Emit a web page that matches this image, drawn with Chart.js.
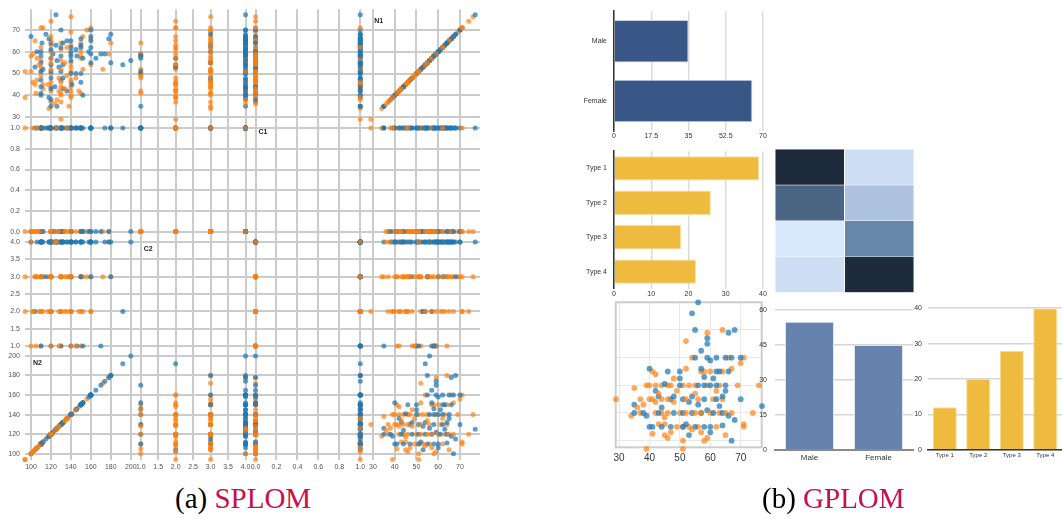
<!DOCTYPE html>
<html>
<head>
<meta charset="utf-8">
<script src="https://cdn.jsdelivr.net/npm/chart.js@4.4.1/dist/chart.umd.min.js"></script>
<style>
  body { margin: 0; background: #fff; width: 1062px; height: 519px; overflow: hidden; position: relative; }
  .box { position: absolute; }
  .cap { position: absolute; font-family: "Liberation Serif", "Times New Roman", serif; font-size: 29px; line-height: 32px; color: #000; white-space: nowrap; }
  .cap span { color: #c8104b; }
</style>
</head>
<body>
<div class="box" style="left:0;top:0;width:490px;height:475px"><canvas id="splom"></canvas></div>
<div class="box" style="left:580px;top:0;width:200px;height:145px"><canvas id="genderH"></canvas></div>
<div class="box" style="left:580px;top:140px;width:200px;height:160px"><canvas id="typeH"></canvas></div>
<div class="box" style="left:770px;top:140px;width:150px;height:160px"><canvas id="heat"></canvas></div>
<div class="box" style="left:590px;top:296px;width:180px;height:175px"><canvas id="scatter"></canvas></div>
<div class="box" style="left:740px;top:298px;width:180px;height:170px"><canvas id="genderV"></canvas></div>
<div class="box" style="left:905px;top:298px;width:157px;height:170px"><canvas id="typeV"></canvas></div>
<div class="cap" style="left:175px;top:482px">(a) <span>SPLOM</span></div>
<div class="cap" style="left:762px;top:482px">(b) <span>GPLOM</span></div>

<script>
// ---- records, blue group
var blueN1 = [56,54,55,66,68,59,59,57,55,59, 62,65,67,70,60,40,46,57,62,63, 66,50,50,45,50,56,58,60,62,65,
              42,65,43,48,47,51,53,54,58,62, 70,35,35,38,39,43,48,51,54,57, 59,61,64,66,77,40,41,44,47,51,
              52,55,58,60,64,53,60,67,56,63, 68,44,61,58,64];
var blueN2 = [200,192,180,178,180,174,170,165,160,160, 160,160,160,160,158,152,150,152,150,150,
              150,150,145,141,140,140,140,140,140,140, 136,136,132,132,130,130,128,132,130,130,
              130,126,120,120,118,120,120,120,120,120, 122,120,120,118,125,110,110,110,110,110,
              112,110,110,110,111,104,106,100,126,125, 115,124,145,146,132];
var blueC1 = [0,1,1,0,1,1,0,0,1,1, 1,0,1,1,0,1,1,0,1,1, 1,0,1,1,1,0,1,1,0,1, 1,1,0,1,1,1,0,1,1,1,
              0,1,1,0,1,1,1,0,1,1, 0,1,1,1,1,1,0,1,1,1, 0,1,1,0,1,1,1,0,1,1, 1,0,1,1,0];
var blueC2 = [4,2,3,4,4,4,1,4,4,4, 3,4,4,4,4,4,4,1,4,3, 4,4,4,4,1,4,4,3,4,4, 4,4,4,4,3,4,4,4,1,4,
              4,4,1,4,4,4,3,4,4,2, 4,4,4,4,4,4,4,4,4,1, 4,3,4,4,4,2,4,4,4,4, 3,4,4,1,4];

// ---- records, orange group
var orangeN1 = [64,59,52,54,66,71,70,41,42,52, 57,58,60,64,67,35,39,40,42,44, 46,47,51,53,55,59,63,69,76,29,
                37,40,41,44,46,48,52,56,61,64, 34,37,42,44,45,46,50,52,55,57, 60,63,65,67,74,43,45,49,51,53,
                56,62,71,71,41,45,46,47,51,54, 57,59,58,65,39,51,43,49,38,48, 55,62,36,42];
var orangeN2 = [180,178,172,160,160,160,156,150,148,152, 150,150,150,150,152,138,140,140,140,140,
                140,140,140,140,140,140,140,140,140,130, 130,130,130,130,130,128,130,130,130,130,
                118,120,120,120,117,120,120,120,120,120, 120,120,120,120,120,112,112,110,110,110,
                110,110,110,112,105,104,102,106,100,108, 106,102,100,104,94,94,134,136,126,145,
                134,136,124,128];
var orangeC1 = [1,0,0,0,1,0,0,0,1,0, 0,1,0,0,0,1,0,0,1,0, 0,0,1,0,0,0,1,0,0,1, 0,0,0,1,0,0,1,0,0,0,
                1,0,0,0,1,0,0,1,0,0, 0,1,0,0,0,0,1,0,0,1, 0,0,0,1,0,0,1,0,0,0, 1,0,0,0,1,0,0,0,1,0,
                0,1,0,0];
var orangeC2 = [3,4,3,2,3,2,3,3,2,3, 2,3,3,1,2,3,2,3,2,3, 2,4,3,2,3,1,2,3,3,2, 3,2,3,4,3,2,1,3,2,3,
                3,2,4,3,2,3,1,2,3,2, 3,4,2,3,2,3,2,1,3,2, 4,3,2,3,1,3,2,3,4,2, 3,2,1,3,2,3,2,3,4,1,
                3,2,4,1];

// SPLOM layout: columns left to right, rows top to bottom
var colVars = ['N2', 'C2', 'C1', 'N1'];
var rowVars = ['N1', 'C1', 'C2', 'N2'];
var tickSets = {
  N1: [30, 40, 50, 60, 70],
  C1: [0, 0.2, 0.4, 0.6, 0.8, 1],
  C2: [1, 1.5, 2, 2.5, 3, 3.5, 4],
  N2: [100, 120, 140, 160, 180, 200]
};

// GPLOM bars
var genderLabels = ['Male', 'Female'];
var genderCountsH = [35, 65];
var genderTicksH = [0, 17.5, 35, 52.5, 70];
var typeLabels = ['Type 1', 'Type 2', 'Type 3', 'Type 4'];
var typeCountsH = [39, 26, 18, 22];
var typeTicksH = [0, 10, 20, 30, 40];
var heatMale = [28, 21, 3, 5];
var heatFemale = [5, 10, 17, 28];
var genderCountsV = [55, 45];
var genderTicksV = [0, 15, 30, 45, 60];
var typeCountsV = [12, 20, 28, 40];
var typeTicksV = [0, 10, 20, 30, 40];
var scatterTicksX = [30, 40, 50, 60, 70];
var scatterTicksY = [100, 120, 140, 160, 180];

Chart.defaults.font.family = '"Liberation Sans", Arial, sans-serif';
Chart.defaults.animation = false;
Chart.defaults.plugins.legend.display = false;
Chart.defaults.plugins.tooltip.enabled = false;
Chart.defaults.responsive = true;
Chart.defaults.maintainAspectRatio = false;

var groupColors = ['rgba(31,119,180,0.72)', 'rgba(255,127,14,0.68)'];

// interleave the two groups so neither is drawn entirely on top
var records = [];
for (var i = 0; i < Math.max(blueN1.length, orangeN1.length); i++) {
  if (i < blueN1.length) records.push({N1: blueN1[i], N2: blueN2[i], C1: blueC1[i], C2: blueC2[i], g: 0});
  if (i < orangeN1.length) records.push({N1: orangeN1[i], N2: orangeN2[i], C1: orangeC1[i], C2: orangeC2[i], g: 1});
}

function fixedTicks(arr) {
  return function (s) { s.ticks = arr.map(function (v) { return {value: v}; }); };
}

// ---------------- SPLOM ----------------
var xRange = {N2: [94, 205], C2: [0.857, 4.143], C1: [-0.048, 1.057], N1: [26.9, 79.2]};
var yRange = {N1: [28.5, 79.5], C1: [-0.048, 1.074], C2: [0.857, 4.157], N2: [93.6, 205]};
var colW = {N2: 111, C2: 115, C1: 116, N1: 114};
var rowH = {N1: 112.3, C1: 117.2, C2: 115.5, N2: 110};
var splomGrid = '#cbcbcb';

function splomFmt(v) {
  return function (val) { return v.charAt(0) === 'C' ? val.toFixed(1) : val; };
}

var splomScales = {};
// left-stacked axes: the last defined one sits on top
rowVars.slice().reverse().forEach(function (v) {
  splomScales['y' + v] = {
    type: 'linear', position: 'left', stack: 'rows', stackWeight: rowH[v],
    min: yRange[v][0], max: yRange[v][1],
    afterBuildTicks: fixedTicks(tickSets[v]),
    afterFit: function (s) { s.width = 20; },
    grid: {color: splomGrid, lineWidth: 2, drawTicks: false},
    border: {display: false},
    ticks: {font: {size: 7}, color: '#555', padding: 5, autoSkip: false, callback: splomFmt(v)}
  };
});
colVars.forEach(function (v) {
  splomScales['x' + v] = {
    type: 'linear', position: 'bottom', stack: 'cols', stackWeight: colW[v],
    min: xRange[v][0], max: xRange[v][1],
    afterBuildTicks: fixedTicks(tickSets[v]),
    afterFit: function (s) { s.height = 12; },
    grid: {color: splomGrid, lineWidth: 2, drawTicks: false},
    border: {display: false},
    ticks: {font: {size: 7}, color: '#555', padding: 3, maxRotation: 0, autoSkip: false, callback: splomFmt(v)}
  };
});

var splomSets = [];
rowVars.forEach(function (rv) {
  colVars.forEach(function (cv) {
    if (rv === cv && rv.charAt(0) === 'C') return;
    splomSets.push({
      data: records.map(function (r) { return {x: r[cv], y: r[rv]}; }),
      xAxisID: 'x' + cv, yAxisID: 'y' + rv,
      pointRadius: 2.5, pointBorderWidth: 0,
      pointBackgroundColor: records.map(function (r) { return groupColors[r.g]; }),
      clip: false
    });
  });
});

var diagLabels = {
  id: 'diagLabels',
  afterDatasetsDraw: function (chart) {
    var ctx = chart.ctx;
    ctx.save();
    ctx.font = 'bold 7px "Liberation Sans", Arial, sans-serif';
    ctx.fillStyle = '#222';
    ctx.textBaseline = 'middle';
    rowVars.forEach(function (v) {
      var xs = chart.scales['x' + v], ys = chart.scales['y' + v];
      ctx.fillText(v, xs.left + 8, ys.top + 12);
    });
    ctx.restore();
  }
};

new Chart(document.getElementById('splom'), {
  type: 'scatter',
  data: {datasets: splomSets},
  options: {
    layout: {padding: {left: 5, right: 10, top: 5, bottom: 3}},
    scales: splomScales
  },
  plugins: [diagLabels]
});

// ---------------- GPLOM ----------------
var ink = '#333';
var lightGrid = '#dcdcdc';

// horizontal gender bars
new Chart(document.getElementById('genderH'), {
  type: 'bar',
  data: {labels: genderLabels, datasets: [{
    data: genderCountsH, backgroundColor: '#385787', borderColor: '#c9d3e3', borderWidth: 1,
    barPercentage: 0.71, categoryPercentage: 1
  }]},
  options: {
    indexAxis: 'y',
    layout: {padding: {left: 0, right: 17, top: 10, bottom: 0}},
    scales: {
      x: {min: 0, max: 70, afterBuildTicks: fixedTicks(genderTicksH), afterFit: function (s) { s.height = 14; },
          grid: {color: lightGrid, lineWidth: 1.5, drawTicks: false}, border: {display: false},
          ticks: {font: {size: 7}, color: ink, padding: 1}},
      y: {grid: {display: false, drawTicks: false}, border: {color: ink, width: 1.5}, afterFit: function (s) { s.width = 34; },
          ticks: {font: {size: 7}, color: ink, padding: 7}}
    }
  }
});

// horizontal type bars
new Chart(document.getElementById('typeH'), {
  type: 'bar',
  data: {labels: typeLabels, datasets: [{
    data: typeCountsH, backgroundColor: '#eebb3f', borderColor: '#f7dc9c', borderWidth: 1,
    barPercentage: 0.71, categoryPercentage: 1
  }]},
  options: {
    indexAxis: 'y',
    layout: {padding: {left: 0, right: 17, top: 7.5, bottom: 0}},
    scales: {
      x: {min: 0, max: 40, afterBuildTicks: fixedTicks(typeTicksH), afterFit: function (s) { s.height = 10.5; },
          grid: {color: lightGrid, lineWidth: 1.5, drawTicks: false}, border: {display: false},
          ticks: {font: {size: 7}, color: ink, padding: 1}},
      y: {grid: {display: false, drawTicks: false}, border: {color: ink, width: 1.5}, afterFit: function (s) { s.width = 34; },
          ticks: {font: {size: 7}, color: ink, padding: 7}}
    }
  }
});

// heatmap gender x type
var heatStops = [[0, [216, 232, 253]], [0.3, [170, 192, 220]], [0.6, [92, 126, 162]], [1, [30, 43, 60]]];
var heatAll = heatMale.concat(heatFemale);
var heatMin = Math.min.apply(null, heatAll), heatMax = Math.max.apply(null, heatAll);
function heatColor(v) {
  var t = (v - heatMin) / (heatMax - heatMin);
  for (var k = 1; k < heatStops.length; k++) {
    if (t <= heatStops[k][0]) {
      var a = heatStops[k - 1], b = heatStops[k];
      var f = (t - a[0]) / (b[0] - a[0]);
      var c = a[1].map(function (x, j) { return Math.round(x + (b[1][j] - x) * f); });
      return 'rgb(' + c.join(',') + ')';
    }
  }
  return 'rgb(30,43,60)';
}
new Chart(document.getElementById('heat'), {
  type: 'bar',
  data: {labels: genderLabels, datasets: typeLabels.map(function (t, i) {
    return {
      label: t, data: genderLabels.map(function () { return 1; }),
      backgroundColor: [heatColor(heatMale[i]), heatColor(heatFemale[i])],
      borderColor: 'rgba(255,255,255,0.35)', borderWidth: 0.8,
      barPercentage: 1, categoryPercentage: 1
    };
  })},
  options: {
    layout: {padding: {left: 5, right: 6, top: 9.3, bottom: 7.3}},
    scales: {
      x: {display: false, stacked: true},
      y: {display: false, stacked: true, min: 0, max: typeLabels.length, reverse: true}
    }
  }
});

// scatter N1 vs N2
var frame = {
  id: 'frame',
  beforeDatasetsDraw: function (chart) {
    var a = chart.chartArea, ctx = chart.ctx;
    ctx.save();
    ctx.strokeStyle = '#cdcdcd';
    ctx.lineWidth = 2;
    ctx.strokeRect(a.left, a.top, a.right - a.left, a.bottom - a.top);
    ctx.restore();
  }
};
new Chart(document.getElementById('scatter'), {
  type: 'scatter',
  data: {datasets: [{
    data: records.map(function (r) { return {x: r.N1, y: r.N2}; }),
    pointRadius: 2.9, pointBorderWidth: 0,
    pointBackgroundColor: records.map(function (r) { return groupColors[r.g]; }),
    clip: false
  }]},
  options: {
    layout: {padding: {left: 25.7, right: 8.3, top: 6.3, bottom: 0}},
    scales: {
      x: {min: 28.9, max: 76.9, afterBuildTicks: fixedTicks(scatterTicksX), afterFit: function (s) { s.height = 23.7; },
          grid: {color: '#e8e8e8', lineWidth: 1, drawTicks: false}, border: {display: false},
          ticks: {font: {size: 10}, color: ink, padding: 5}},
      y: {min: 95.2, max: 200, afterBuildTicks: fixedTicks(scatterTicksY), afterFit: function (s) { s.width = 0; },
          grid: {color: '#e8e8e8', lineWidth: 1, drawTicks: false}, border: {display: false},
          ticks: {display: false}}
    }
  },
  plugins: [frame]
});

// vertical gender bars
new Chart(document.getElementById('genderV'), {
  type: 'bar',
  data: {labels: genderLabels, datasets: [{
    data: genderCountsV, backgroundColor: '#6683b0', borderColor: '#dfe6f0', borderWidth: 1,
    barPercentage: 0.71, categoryPercentage: 1
  }]},
  options: {
    layout: {padding: {left: 0, right: 7, top: 8.7, bottom: 0}},
    scales: {
      x: {grid: {display: false, drawTicks: false}, border: {color: '#8a8a8a', width: 2}, afterFit: function (s) { s.height = 18.3; },
          ticks: {font: {size: 8}, color: ink, padding: 3}},
      y: {min: 0, max: 60, afterBuildTicks: fixedTicks(genderTicksV), afterFit: function (s) { s.width = 35; },
          grid: {color: '#d6d6d6', lineWidth: 1.5, drawTicks: false}, border: {display: false},
          ticks: {font: {size: 7}, color: ink, padding: 8}}
    }
  }
});

// vertical type bars
new Chart(document.getElementById('typeV'), {
  type: 'bar',
  data: {labels: typeLabels, datasets: [{
    data: typeCountsV, backgroundColor: '#eebb3f', borderColor: '#f7dc9c', borderWidth: 1,
    barPercentage: 0.72, categoryPercentage: 1
  }]},
  options: {
    layout: {padding: {left: 0, right: 0, top: 8.7, bottom: 0}},
    scales: {
      x: {grid: {display: false, drawTicks: false}, border: {color: ink, width: 1.5}, afterFit: function (s) { s.height = 18.3; },
          ticks: {font: {size: 6}, color: ink, padding: 2, maxRotation: 0, autoSkip: false}},
      y: {min: 0, max: 40, afterBuildTicks: fixedTicks(typeTicksV), afterFit: function (s) { s.width = 23; },
          grid: {color: '#d6d6d6', lineWidth: 1.5, drawTicks: false}, border: {display: false},
          ticks: {font: {size: 7}, color: ink, padding: 6}}
    }
  }
});
</script>
</body>
</html>
